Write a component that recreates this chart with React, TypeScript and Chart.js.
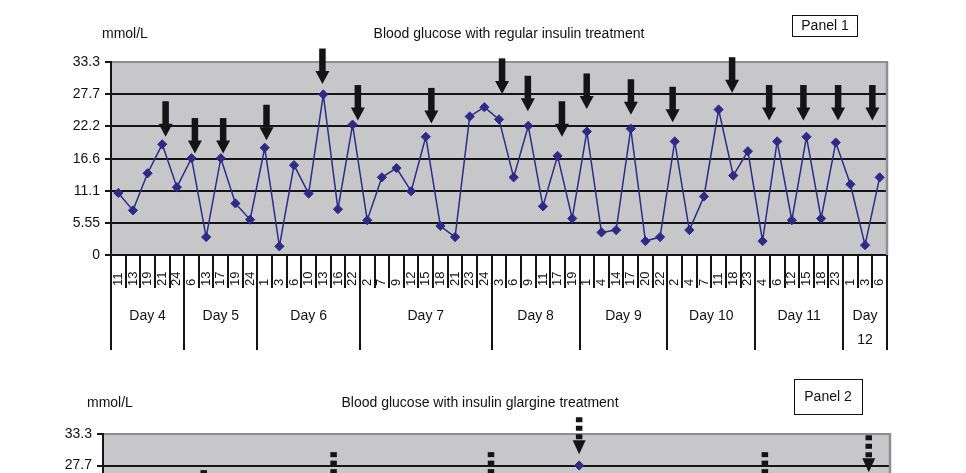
import React, { useEffect, useRef } from 'react';
import { Chart, registerables } from 'chart.js';

Chart.register(...registerables);

const FONT = '"Liberation Sans", Arial, sans-serif';
const NAVY = '#2c2c88';
const GRID = '#151515';
const BORDER_GREY = '#8e8e8e';
const PLOT_BG = '#c7c7c9';

// ---------- Panel 1 data ----------
const title1 = 'Blood glucose with regular insulin treatment';
const title2 = 'Blood glucose with insulin glargine treatment';
const unitLabel = 'mmol/L';

const dayNames = ['Day 4', 'Day 5', 'Day 6', 'Day 7', 'Day 8', 'Day 9', 'Day 10', 'Day 11', 'Day 12'];
const hoursDay4 = ['11', '13', '19', '21', '24'];
const hoursDay5 = ['6', '13', '17', '19', '24'];
const hoursDay6 = ['1', '3', '6', '10', '13', '16', '22'];
const hoursDay7 = ['2', '7', '9', '12', '15', '18', '21', '23', '24'];
const hoursDay8 = ['3', '6', '9', '11', '17', '19'];
const hoursDay9 = ['1', '4', '14', '17', '20', '22'];
const hoursDay10 = ['2', '4', '7', '11', '18', '23'];
const hoursDay11 = ['4', '6', '12', '15', '18', '23'];
const hoursDay12 = ['1', '3', '6'];
const hoursByDay = [hoursDay4, hoursDay5, hoursDay6, hoursDay7, hoursDay8, hoursDay9, hoursDay10, hoursDay11, hoursDay12];

const glucoseRegular = [
  10.7, 7.7, 14.1, 19.1, 11.7,
  16.7, 3.1, 16.7, 8.9, 6.1,
  18.5, 1.5, 15.5, 10.6, 27.7, 7.9, 22.5,
  6.0, 13.4, 15.0, 11.0, 20.4, 5.0, 3.1, 23.9, 25.5,
  23.4, 13.4, 22.3, 8.4, 17.1, 6.3,
  21.3, 3.9, 4.3, 21.8, 2.4, 3.1,
  19.6, 4.3, 10.1, 25.1, 13.7, 17.9,
  2.4, 19.6, 6.0, 20.4, 6.3, 19.4,
  12.2, 1.7, 13.4,
];

const yTicks = [0, 5.55, 11.1, 16.6, 22.2, 27.7, 33.3];

// insulin injection arrows (position on category axis, value at arrow tip)
const regularArrowPos = [3.23, 5.23, 7.16, 10.12, 13.94, 16.36, 21.38, 26.21, 27.97, 30.3, 31.99, 35.01, 37.86, 41.92, 44.45, 46.79, 49.16, 51.5];
const regularArrowTip = [20.4, 17.5, 17.5, 19.8, 29.5, 23.2, 22.7, 27.8, 24.8, 20.4, 25.2, 24.2, 22.9, 28.0, 23.2, 23.2, 23.2, 23.2];

// ---------- Panel 2 data (only the visible top strip) ----------
const panel2Ticks = [27.7, 33.3];
const glucoseGlargine = [{ x: 60.5, y: 27.7 }];
const glargineArrowPos = [12.8, 29.3, 49.3, 60.5, 84.1, 97.3];
const glargineArrowTip = [20.3, 23.5, 23.5, 29.7, 23.5, 26.5];

const categories: string[] = hoursByDay.flat();
const dayStarts: number[] = [];
{
  let acc = 0;
  hoursByDay.forEach((h) => { dayStarts.push(acc); acc += h.length; });
  dayStarts.push(acc);
}

function drawArrow(ctx: CanvasRenderingContext2D, x: number, tipY: number, dashed: boolean) {
  const headH = dashed ? 14 : 13;
  const headW = dashed ? 13 : 14;
  const len = dashed ? 37 : 35.5;
  const shaftW = 6.5;
  const top = tipY - len;
  const headTop = tipY - headH;
  ctx.fillStyle = '#141414';
  if (dashed) {
    for (let y = top; y < headTop - 0.5; y += 8.5) {
      ctx.fillRect(x - shaftW / 2, y, shaftW, Math.min(5, headTop - y));
    }
  } else {
    ctx.fillRect(x - shaftW / 2, top, shaftW, headTop - top + 0.5);
  }
  ctx.beginPath();
  ctx.moveTo(x - headW / 2, headTop);
  ctx.lineTo(x + headW / 2, headTop);
  ctx.lineTo(x, tipY);
  ctx.closePath();
  ctx.fill();
}

function framePlugin(id: string) {
  return {
    id,
    beforeDraw(chart: any) {
      const { ctx, chartArea: a } = chart;
      ctx.save();
      ctx.fillStyle = PLOT_BG;
      ctx.fillRect(a.left, a.top, a.right - a.left, a.bottom - a.top);
      ctx.restore();
    },
    beforeDatasetsDraw(chart: any) {
      const { ctx, chartArea: a } = chart;
      ctx.save();
      ctx.strokeStyle = BORDER_GREY;
      ctx.lineWidth = 2.5;
      ctx.beginPath();
      ctx.moveTo(a.right, a.top - 1);
      ctx.lineTo(a.right, a.bottom);
      ctx.stroke();
      ctx.restore();
    },
  };
}

const panel1Decor = {
  id: 'panel1Decor',
  afterDatasetsDraw(chart: any) {
    const { ctx, scales } = chart;
    ctx.save();
    regularArrowPos.forEach((p, k) => {
      drawArrow(ctx, scales.x.getPixelForValue(p), scales.y.getPixelForValue(regularArrowTip[k]), false);
    });
    ctx.restore();
  },
  afterDraw(chart: any) {
    const { ctx, chartArea: a, scales } = chart;
    const xs = scales.x;
    ctx.save();
    ctx.fillStyle = '#111';
    ctx.textBaseline = 'middle';
    ctx.font = `14px ${FONT}`;
    ctx.textAlign = 'left';
    ctx.fillText(unitLabel, 102, 34);
    ctx.textAlign = 'center';
    ctx.fillText(title1, 509, 34);
    ctx.strokeStyle = '#111';
    ctx.lineWidth = 1;
    ctx.strokeRect(792.5, 15.5, 65, 21);
    ctx.fillText('Panel 1', 825, 26.5);

    // category separators
    ctx.strokeStyle = GRID;
    ctx.lineWidth = 2;
    const startSet = new Set(dayStarts);
    for (let b = 0; b <= categories.length; b++) {
      const px = Math.round(xs.getPixelForValue(b - 0.5));
      const isDay = startSet.has(b);
      ctx.beginPath();
      ctx.moveTo(px, a.bottom);
      ctx.lineTo(px, a.bottom + (isDay ? 95 : 33));
      ctx.stroke();
    }

    // hour labels (rotated)
    ctx.font = `13px ${FONT}`;
    ctx.textAlign = 'left';
    categories.forEach((lab, i) => {
      const px = xs.getPixelForValue(i);
      ctx.save();
      ctx.translate(px, a.bottom + 31);
      ctx.rotate(-Math.PI / 2);
      ctx.fillText(lab, 0, 0);
      ctx.restore();
    });

    // day labels
    ctx.font = `14px ${FONT}`;
    ctx.textAlign = 'center';
    dayNames.forEach((d, k) => {
      const x0 = xs.getPixelForValue(dayStarts[k] - 0.5);
      const x1 = xs.getPixelForValue(dayStarts[k + 1] - 0.5);
      const cx = (x0 + x1) / 2;
      if (ctx.measureText(d).width > x1 - x0 - 6) {
        d.split(' ').forEach((part, j) => ctx.fillText(part, cx, a.bottom + 61 + j * 24));
      } else {
        ctx.fillText(d, cx, a.bottom + 61);
      }
    });
    ctx.restore();
  },
};

const panel2Decor = {
  id: 'panel2Decor',
  afterDatasetsDraw(chart: any) {
    const { ctx, scales } = chart;
    ctx.save();
    glargineArrowPos.forEach((p, k) => {
      drawArrow(ctx, scales.x.getPixelForValue(p), scales.y.getPixelForValue(glargineArrowTip[k]), true);
    });
    ctx.restore();
  },
  afterDraw(chart: any) {
    const { ctx } = chart;
    ctx.save();
    ctx.fillStyle = '#111';
    ctx.textBaseline = 'middle';
    ctx.font = `14px ${FONT}`;
    ctx.textAlign = 'left';
    ctx.fillText(unitLabel, 87, 28);
    ctx.textAlign = 'center';
    ctx.fillText(title2, 480, 28);
    ctx.strokeStyle = '#111';
    ctx.lineWidth = 1;
    ctx.strokeRect(794.5, 4.5, 68, 35);
    ctx.fillText('Panel 2', 828, 22.5);
    ctx.restore();
  },
};

function yAxis(min: number, max: number, ticks: number[], width: number) {
  return {
    min,
    max,
    afterBuildTicks: (s: any) => { s.ticks = ticks.map((v) => ({ value: v })); },
    afterFit: (s: any) => { s.width = width; },
    border: { display: true, color: GRID, width: 2 },
    grid: {
      color: (c: any) => (c.tick && c.tick.value === max ? BORDER_GREY : GRID),
      lineWidth: 2,
      tickColor: GRID,
      tickLength: 6,
      drawTicks: true,
    },
    ticks: {
      color: '#111',
      font: { family: FONT, size: 14 },
      padding: 5,
      callback: (v: any) => String(v),
    },
  };
}

const lineStyle = {
  borderColor: NAVY,
  borderWidth: 1.5,
  pointStyle: 'rectRot',
  pointRadius: 4.6,
  pointHoverRadius: 4.6,
  pointBackgroundColor: NAVY,
  pointBorderColor: NAVY,
  pointBorderWidth: 1,
  tension: 0,
  clip: false,
};

export default function App() {
  const ref1 = useRef<HTMLCanvasElement>(null);
  const ref2 = useRef<HTMLCanvasElement>(null);

  useEffect(() => {
    document.body.style.margin = '0';
    const c1 = new Chart(ref1.current as HTMLCanvasElement, {
      type: 'line',
      data: {
        labels: categories,
        datasets: [{ data: glucoseRegular, ...lineStyle } as any],
      },
      options: {
        responsive: false,
        animation: false,
        devicePixelRatio: 1,
        events: [],
        layout: { padding: { left: 0, top: 62, right: 79, bottom: 120 } },
        plugins: { legend: { display: false }, tooltip: { enabled: false }, title: { display: false } },
        scales: {
          x: { type: 'category', offset: true, display: false },
          y: yAxis(0, 33.3, yTicks, 111) as any,
        },
      },
      plugins: [framePlugin('frame1'), panel1Decor],
    });
    // Panel 2 canvas extends below the page edge; only its top strip is visible.
    const c2 = new Chart(ref2.current as HTMLCanvasElement, {
      type: 'line',
      data: {
        datasets: [{ data: glucoseGlargine, ...lineStyle } as any],
      },
      options: {
        responsive: false,
        animation: false,
        devicePixelRatio: 1,
        events: [],
        layout: { padding: { left: 0, top: 59, right: 76, bottom: 20 } },
        plugins: { legend: { display: false }, tooltip: { enabled: false }, title: { display: false } },
        scales: {
          x: { type: 'linear', min: 0, max: 100, display: false },
          y: yAxis(22.46, 33.3, panel2Ticks, 103) as any,
        },
      },
      plugins: [framePlugin('frame2'), panel2Decor],
    });
    return () => {
      c1.destroy();
      c2.destroy();
    };
  }, []);

  return (
    <div style={{ position: 'relative', width: 966, height: 473, overflow: 'hidden', background: '#fff' }}>
      <canvas ref={ref1} width={966} height={375} style={{ position: 'absolute', left: 0, top: 0 }} />
      <canvas ref={ref2} width={966} height={140} style={{ position: 'absolute', left: 0, top: 375 }} />
    </div>
  );
}
